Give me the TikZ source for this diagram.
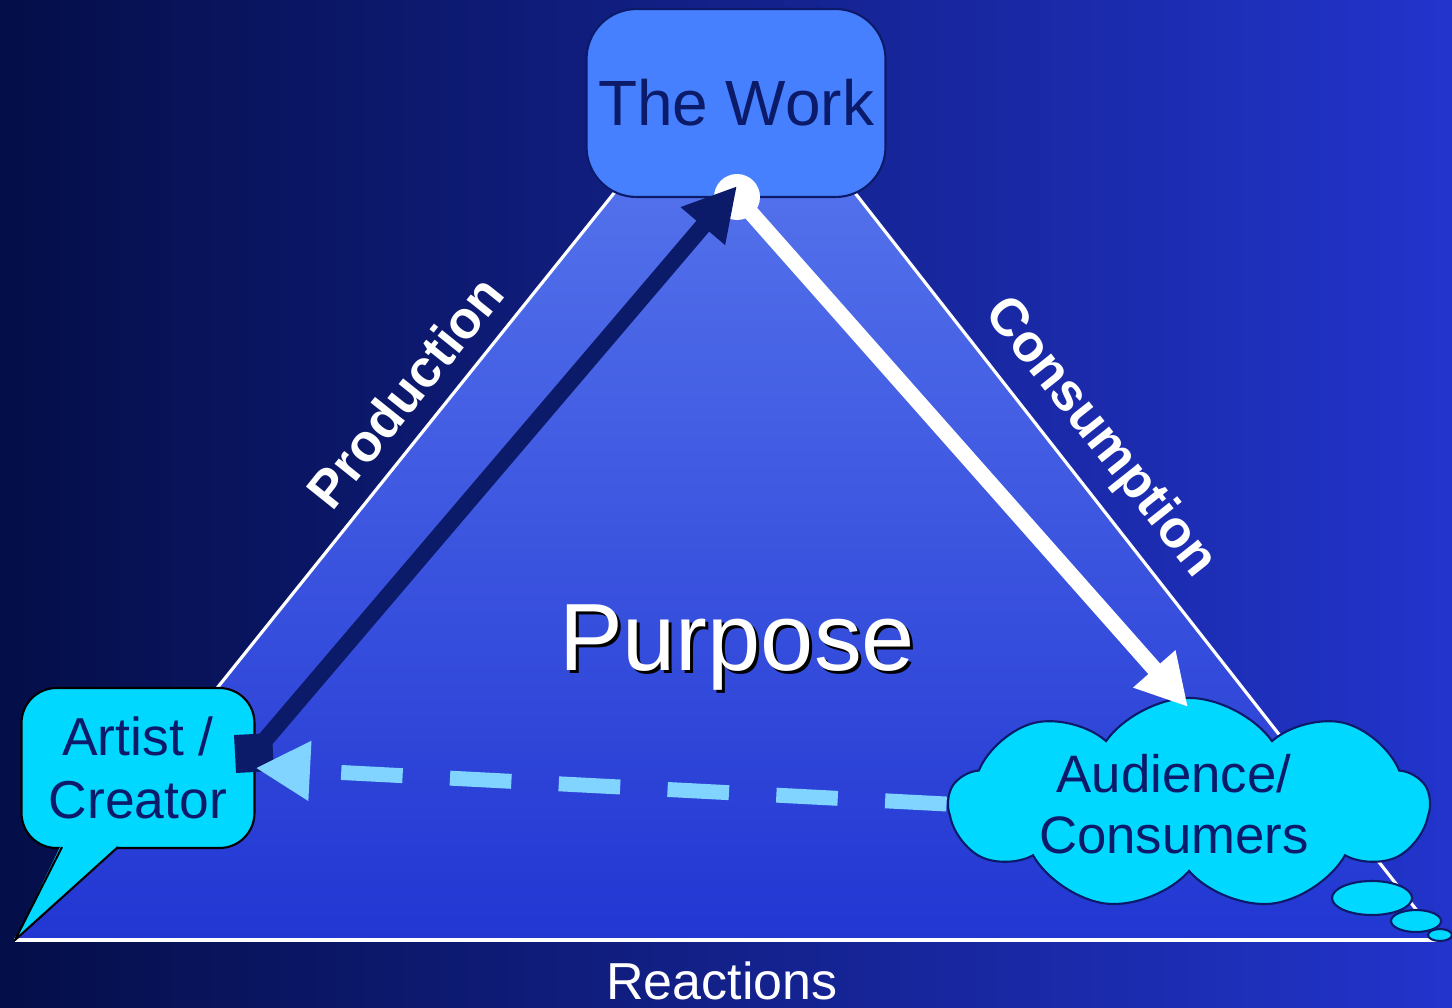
\documentclass[tikz,border=0pt]{standalone}
\usepackage{fontspec}
\setmainfont{Liberation Sans}
\usetikzlibrary{arrows.meta,shapes.symbols,positioning}
\definecolor{bgleft}{RGB}{4,14,72}
\definecolor{bgright}{RGB}{34,52,204}
\definecolor{tritop}{RGB}{92,124,240}
\definecolor{tribot}{RGB}{34,54,210}
\definecolor{workblue}{RGB}{70,128,255}
\definecolor{navy}{RGB}{12,26,106}
\definecolor{cyanfill}{RGB}{0,216,255}
\definecolor{dashblue}{RGB}{128,212,255}

\begin{document}
\begin{tikzpicture}[x = 0.02cm, y = -0.02cm,
	workbox/.style = {draw = navy, fill = workblue, line width = 1.2pt, rounded corners = 1cm, minimum width = 5.98cm, minimum height = 3.76cm, text = navy, font = \fontsize{36.4}{40}\selectfont},
	speech/.style = {draw = black, fill = cyanfill, line width = 1.2pt, rounded corners = 0.7cm, minimum width = 4.66cm, minimum height = 3.2cm, text = navy, align = center, font = \fontsize{30.4}{36.3}\selectfont},
	thought/.style = {cloud, cloud puffs = 9, cloud puff arc = 110, aspect = 2.3, draw = navy, fill = cyanfill, line width = 1.2pt, minimum width = 9.6cm, minimum height = 4.2cm, text = navy, align = center, font = \fontsize{30}{34.6}\selectfont},
	side/.style = {text = white, font = \bfseries\fontsize{30}{36}\selectfont},
	big/.style = {anchor = base, font = \fontsize{54.4}{60}\selectfont}]
	\useasboundingbox (0,0) rectangle (1452,1007);
	\shade[left color = bgleft, right color = bgright] (0,0) rectangle (1452,1007);
	% triangle
	\shade[top color = tritop, bottom color = tribot] (15,940) -- (736,41) -- (1440,940) -- cycle;
	\draw[white, line width = 1.8pt, line join = round] (15,940) -- (736,41) -- (1440,940);
	\draw[white, line width = 2.4pt] (15,940) -- (1440,940);
	\node[side, rotate = 51.3] (prod) at (405,392) {Production};
	\node[side, rotate = -51.6] (cons) at (1100,438) {Consumption};
	\node[text = white, anchor = base, inner sep = 0pt, font = \fontsize{29.6}{34}\selectfont] (react) at (722,999) {Reactions};
	\node[big, text = black] (shadow) at (740,673) {Purpose};
	\node[big, text = white] (purpose) at (737,670) {Purpose};
	% corners
	\node[workbox] (work) at (736,103) {The Work};
	\node[circle, fill = white, minimum size = 0.92cm, inner sep = 0pt] (dot) at (737,197) {};
	\node[speech] (artist) at (138,768) {Artist /\\Creator};
	\fill[cyanfill] (61,845) -- (15,940) -- (119,845) -- cycle;
	\draw[black, line width = 1.2pt, line join = round] (62,847) -- (15,940) -- (118,847);
	\node[thought] (aud) at (1189,804) {\hspace*{-0.6cm}Audience/\\\hspace*{-0.6cm}Consumers};
	\draw[navy, fill = cyanfill, line width = 1.2pt] (1372,898) ellipse [x radius = 40, y radius = 17];
	\draw[navy, fill = cyanfill, line width = 1.2pt] (1416,921) ellipse [x radius = 25, y radius = 11];
	\draw[navy, fill = cyanfill, line width = 1.2pt] (1440,935) ellipse [x radius = 12, y radius = 6];
	% arrows
	\coordinate (wtip) at (737,186);
	\coordinate (wend) at (1188,707);
	\draw[white, line width = 9pt, -{Triangle[length = 29pt, width = 30pt]}] (dot.center) -- (wend);
	\node[fill = navy, minimum size = 0.76cm, inner sep = 0pt, rotate = 3] (sq) at (254,753) {};
	\draw[navy, line width = 9.5pt, -{Triangle[length = 30pt, width = 31pt]}] (sq.center) -- (wtip);
	\draw[dashblue, line width = 8.5pt, dash pattern = on 35pt off 27pt, -{Triangle[length = 31pt, width = 32pt]}] (aud.west) -- (artist.east);
\end{tikzpicture}
\end{document}
